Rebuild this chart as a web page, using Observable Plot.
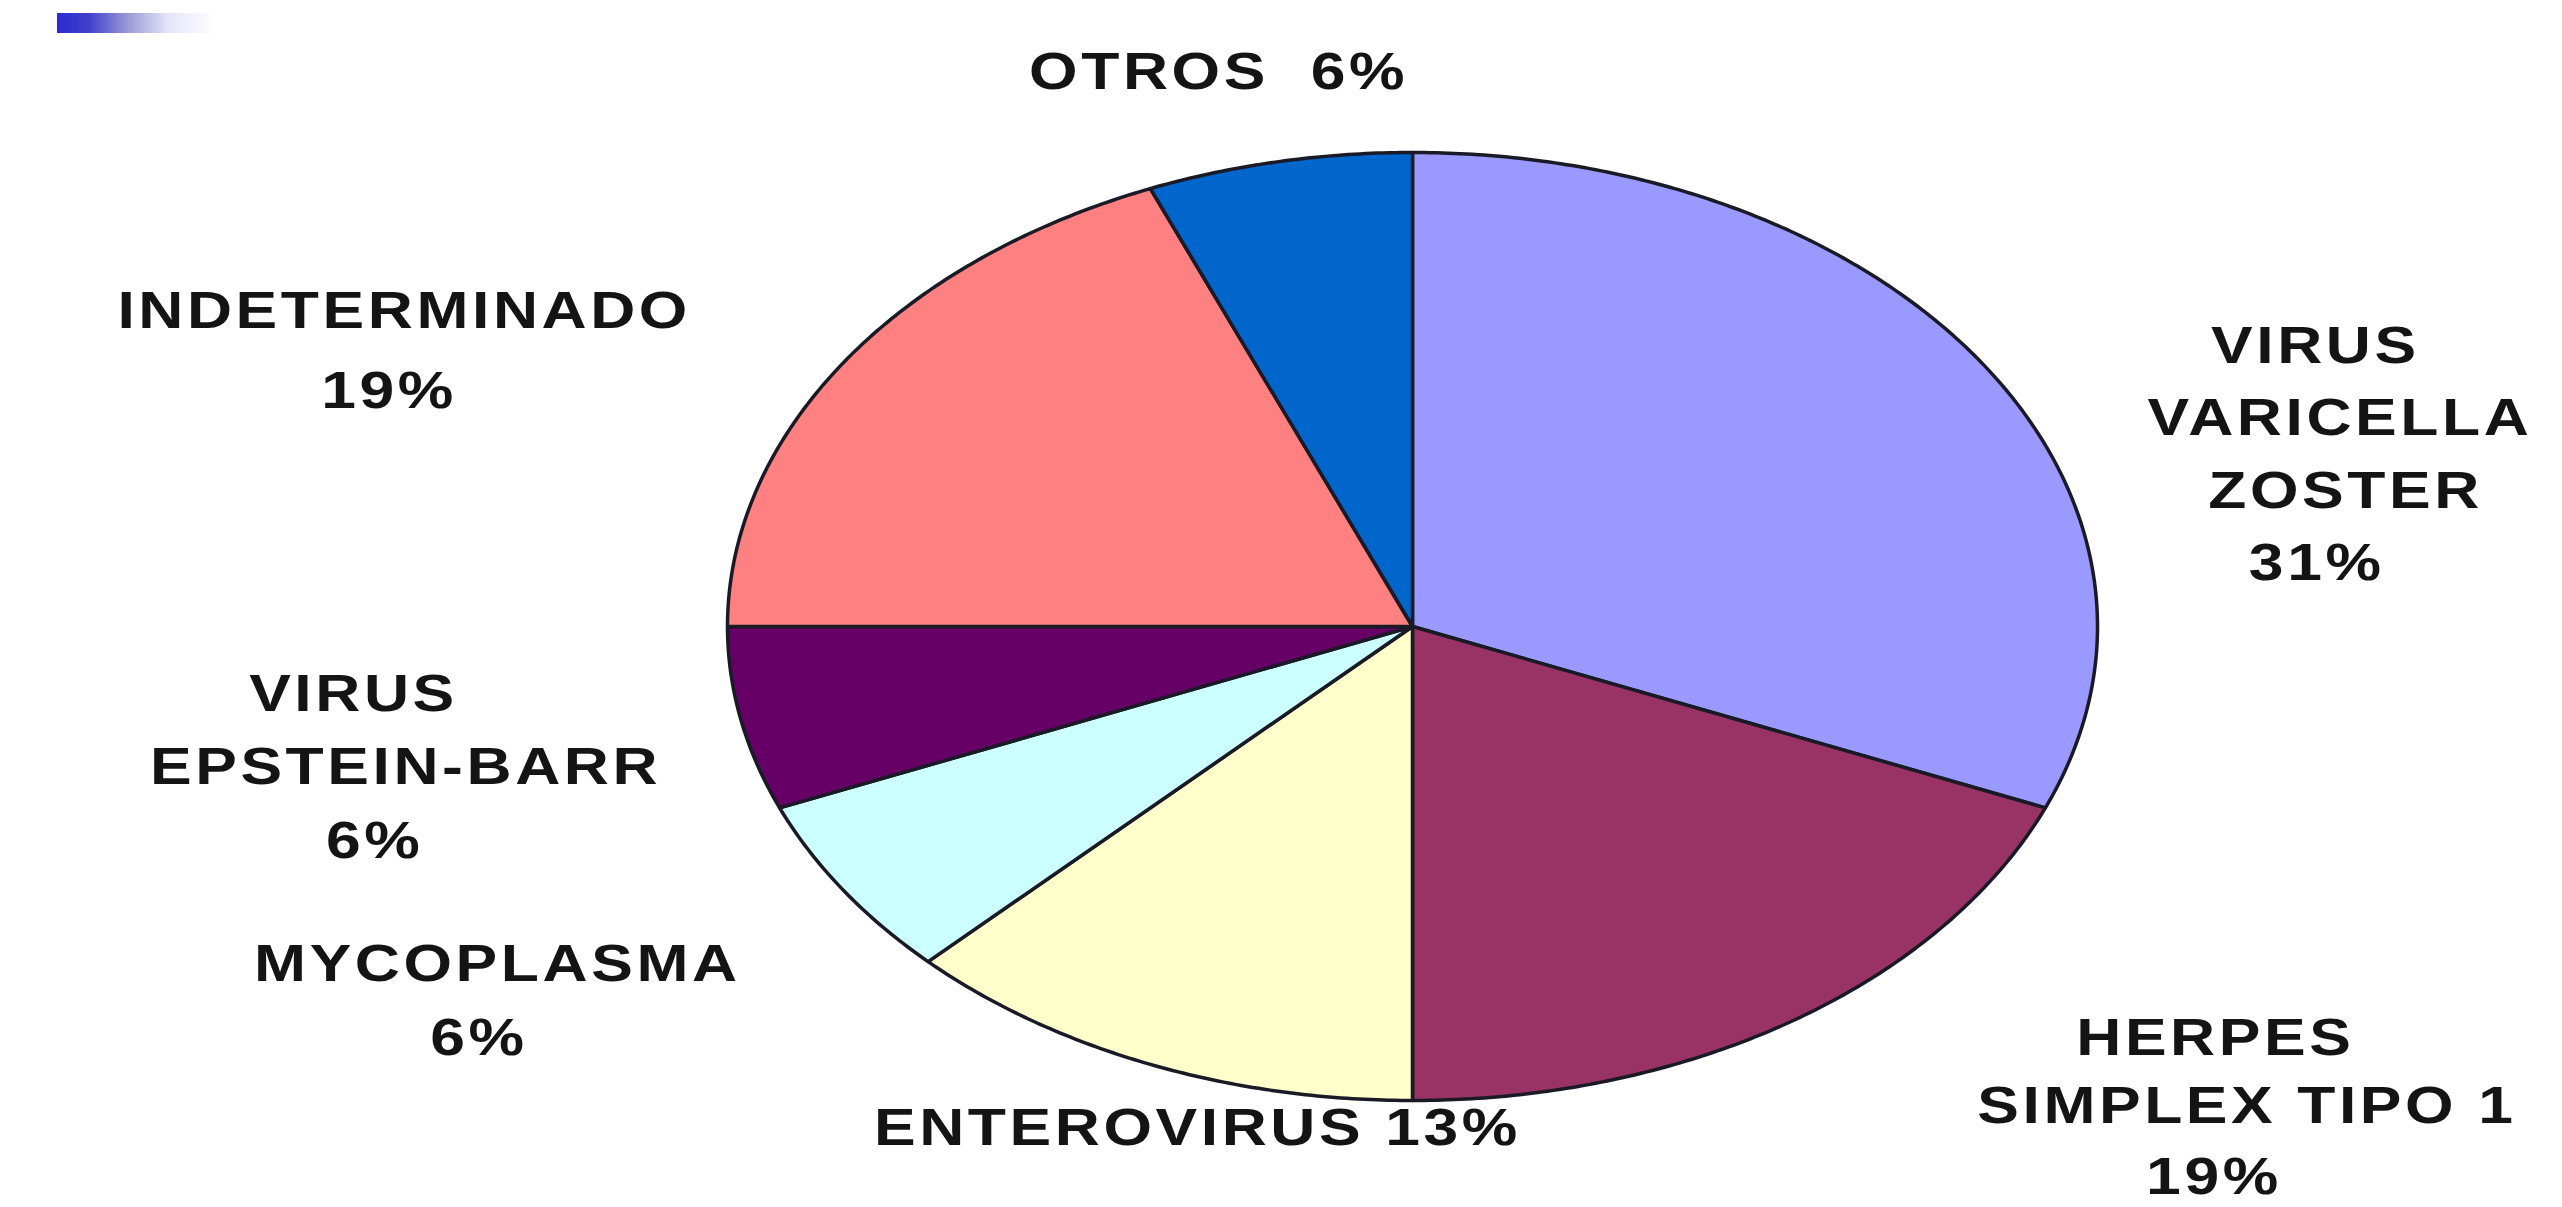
<!DOCTYPE html>
<html>
<head>
<meta charset="utf-8">
<script src="https://cdn.jsdelivr.net/npm/d3@7"></script>
<script src="https://cdn.jsdelivr.net/npm/@observablehq/plot@0.6"></script>
<style>
  html, body { margin: 0; padding: 0; background: #fff; }
  #wrap { position: relative; width: 2562px; height: 1207px; overflow: hidden; background: #fff; }
  #wrap svg { display: block; }
  #bar { position: absolute; left: 57px; top: 13px; width: 158px; height: 20px;
         background: linear-gradient(to right, #2a2ad2 0%, #4040cc 20%, #9a9ad6 45%, #e4e4fa 70%, #ffffff 100%); }
</style>
</head>
<body>
<div id="wrap"><div id="bar"></div></div>
<script>
// ---- data ----
const categories = ["VIRUS VARICELLA ZOSTER", "HERPES SIMPLEX TIPO 1", "ENTEROVIRUS", "MYCOPLASMA", "VIRUS EPSTEIN-BARR", "INDETERMINADO", "OTROS"];
const counts = [5, 3, 2, 1, 1, 3, 1];
const labelTemplates = ["VIRUS\nVARICELLA\nZOSTER\n{p}", "HERPES\nSIMPLEX TIPO 1\n{p}", "ENTEROVIRUS {p}", "MYCOPLASMA\n{p}", "VIRUS\nEPSTEIN-BARR\n{p}", "INDETERMINADO\n{p}", "OTROS  {p}"];
const sliceColors = ["#9999ff", "#993366", "#ffffcc", "#ccffff", "#660066", "#ff8080", "#0066cc"];

// ---- layout: centre of each label line, in pie-radius units (y up) ----
const labelLineLayout = [
  [[1.318, 0.592], [1.354, 0.440], [1.362, 0.285], [1.320, 0.133]],
  [[1.172, -0.868], [1.218, -1.013], [1.170, -1.162]],
  [[-0.314, -1.058]],
  [[-1.336, -0.713], [-1.363, -0.868]],
  [[-1.546, -0.143], [-1.470, -0.298], [-1.515, -0.453]],
  [[-1.472, 0.665], [-1.494, 0.497]],
  [[-0.283, 1.170]]
];

const total = d3.sum(counts);
const arcs = d3.pie().sort(null).value(d => d)(counts);
const wedgePts = [];
arcs.forEach((a, i) => {
  wedgePts.push({cat: categories[i], x: 0, y: 0});
  const n = Math.max(2, Math.ceil((a.endAngle - a.startAngle) / (Math.PI / 360)));
  for (let k = 0; k <= n; k++) {
    const t = a.startAngle + (a.endAngle - a.startAngle) * k / n;
    wedgePts.push({cat: categories[i], x: Math.sin(t), y: Math.cos(t)});
  }
});
const labelLines = [];
categories.forEach((c, i) => {
  const txt = labelTemplates[i].replace("{p}", Math.round(100 * counts[i] / total) + "%");
  txt.split("\n").forEach((line, j) => {
    labelLines.push({cat: c, text: line, x: labelLineLayout[i][j][0], y: labelLineLayout[i][j][1]});
  });
});

const cx = 1412, cy = 626, rx = 685, ry = 474;
const W = 2562, H = 1207;
const textStretch = 1.2;

const chart = Plot.plot({
  width: W,
  height: H,
  marginLeft: cx - rx,
  marginRight: W - (cx + rx),
  marginTop: cy - ry,
  marginBottom: H - (cy + ry),
  x: {domain: [-1, 1], axis: null},
  y: {domain: [-1, 1], axis: null},
  color: {domain: categories, range: sliceColors},
  style: {fontFamily: "'Liberation Sans', Arial, sans-serif", background: "transparent", letterSpacing: "3px"},
  marks: [
    Plot.line(wedgePts, {x: "x", y: "y", z: "cat", fill: "cat", stroke: "#1a1a26", strokeWidth: 3.5,
      curve: "linear-closed", strokeLinejoin: "round"}),
    Plot.text(labelLines, {x: "x", y: "y", text: "text", fontSize: 52, fontWeight: "bold", fill: "#141414",
      textAnchor: "middle", lineAnchor: "middle"})
  ]
});
// widen the glyphs horizontally, as in the reference
d3.select(chart).selectAll('g[aria-label="text"] text').each(function() {
  const t = this.getAttribute("transform");
  if (t) {
    this.setAttribute("transform", t + ` scale(${textStretch},1)`);
  } else {
    const x = +this.getAttribute("x") || 0, y = +this.getAttribute("y") || 0;
    this.setAttribute("x", 0); this.setAttribute("y", 0);
    this.setAttribute("transform", `translate(${x},${y}) scale(${textStretch},1)`);
  }
});
document.getElementById("wrap").appendChild(chart);
</script>
</body>
</html>
